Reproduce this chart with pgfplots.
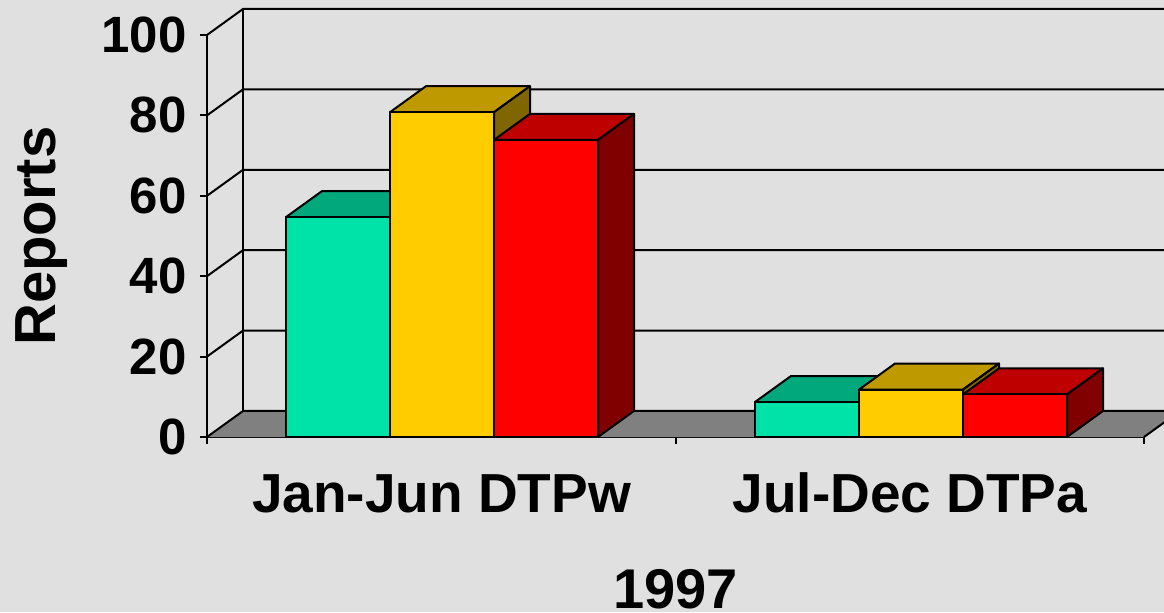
\documentclass[border=0pt]{standalone}
\usepackage{fontspec}
\setmainfont{Liberation Sans}
\usepackage{pgfplots}
\pgfplotsset{compat=1.18}
\definecolor{bg}{RGB}{224,224,224}
\definecolor{tealF}{RGB}{0,227,168}
\definecolor{tealT}{RGB}{0,168,124}
\definecolor{tealS}{RGB}{0,113,84}
\definecolor{yelF}{RGB}{255,204,0}
\definecolor{yelT}{RGB}{191,153,0}
\definecolor{yelS}{RGB}{128,102,0}
\definecolor{redF}{RGB}{255,0,0}
\definecolor{redT}{RGB}{191,0,0}
\definecolor{redS}{RGB}{128,0,0}
\definecolor{floorc}{RGB}{128,128,128}

\newcommand{\dx}{36}
\newcommand{\dy}{6.47}
\newcommand{\bw}{104}
% #1 left x of front face, #2 value, #3 front, #4 top, #5 side colour
\newcommand{\barthree}[5]{%
  \pgfmathsetmacro\xa{#1}%
  \pgfmathsetmacro\xb{#1+\bw}%
  \pgfmathsetmacro\xc{#1+\dx}%
  \pgfmathsetmacro\xd{#1+\bw+\dx}%
  \pgfmathsetmacro\ya{#2}%
  \pgfmathsetmacro\yb{#2+\dy}%
  \edef\tmp{%
   \noexpand\addplot[draw=black, line width=1pt, line join=round, fill=#4] coordinates {(\xa,\ya) (\xc,\yb) (\xd,\yb) (\xb,\ya)} -- cycle;
   \noexpand\addplot[draw=black, line width=1pt, line join=round, fill=#5] coordinates {(\xb,\ya) (\xd,\yb) (\xd,\dy) (\xb,0)} -- cycle;
   \noexpand\addplot[draw=black, line width=1pt, line join=round, fill=#3] coordinates {(\xa,0) (\xa,\ya) (\xb,\ya) (\xb,0)} -- cycle;
  }\tmp
}

\begin{document}
\begin{tikzpicture}
\fill[bg] (0,0) rectangle (582pt,306pt);
\begin{axis}[
  at={(103.5pt,87.5pt)}, anchor=south west,
  scale only axis, width=468.5pt, height=201pt,
  xmin=0, xmax=937, ymin=0, ymax=100,
  enlargelimits=false, clip=false,
  axis lines*=left,
  axis line style={black, line width=1pt},
  every tick/.style={black, line width=1pt},
  tick align=outside, major tick length=3.5pt,
  ytick={0,20,40,60,80,100},
  xtick={0,469,937}, xticklabels={},
  extra x ticks={234.5,703},
  extra x tick labels={Jan-Jun DTPw,Jul-Dec DTPa},
  extra x tick style={major tick length=0pt},
  /pgf/number format/assume math mode=true,
  yticklabel style={font=\bfseries\fontsize{25.5}{28}\selectfont, anchor=east, inner sep=0pt, xshift=-6.5pt},
  xticklabel style={font=\bfseries\fontsize{27.5}{30}\selectfont, anchor=base, inner sep=0pt, yshift=-37.5pt},
  xlabel={1997},
  xlabel style={font=\bfseries\fontsize{28}{30}\selectfont, at={(axis description cs:0.5,-0.4254)}, anchor=base, inner sep=0pt},
  ylabel={Reports},
  ylabel style={font=\bfseries\fontsize{29}{30}\selectfont, at={(axis description cs:-0.1615,0.5)}, anchor=base, rotate=0, inner sep=0pt},
]
% floor
\fill[floorc] (axis cs:0,0) -- (axis cs:937,0) -- (axis cs:973,\dy) -- (axis cs:36,\dy) -- cycle;
\draw[line width=1pt] (axis cs:937,0) -- (axis cs:973,\dy);
% walls
\draw[line width=1pt] (axis cs:36,\dy) -- (axis cs:36,{100+\dy});
\pgfplotsinvokeforeach{0,20,40,60,80,100}{
  \draw[line width=1pt] (axis cs:0,#1) -- (axis cs:36,{#1+\dy}) -- (axis cs:1000,{#1+\dy});
}
% bars: Jan-Jun DTPw
\barthree{79}{54.7}{tealF}{tealT}{tealS}
\barthree{183}{80.8}{yelF}{yelT}{yelS}
\barthree{287}{73.9}{redF}{redT}{redS}
% bars: Jul-Dec DTPa
\barthree{548}{8.7}{tealF}{tealT}{tealS}
\barthree{652}{11.8}{yelF}{yelT}{yelS}
\barthree{756}{10.6}{redF}{redT}{redS}
\end{axis}
\pgfresetboundingbox
\path (0,0) rectangle (582pt,306pt);
\end{tikzpicture}
\end{document}
